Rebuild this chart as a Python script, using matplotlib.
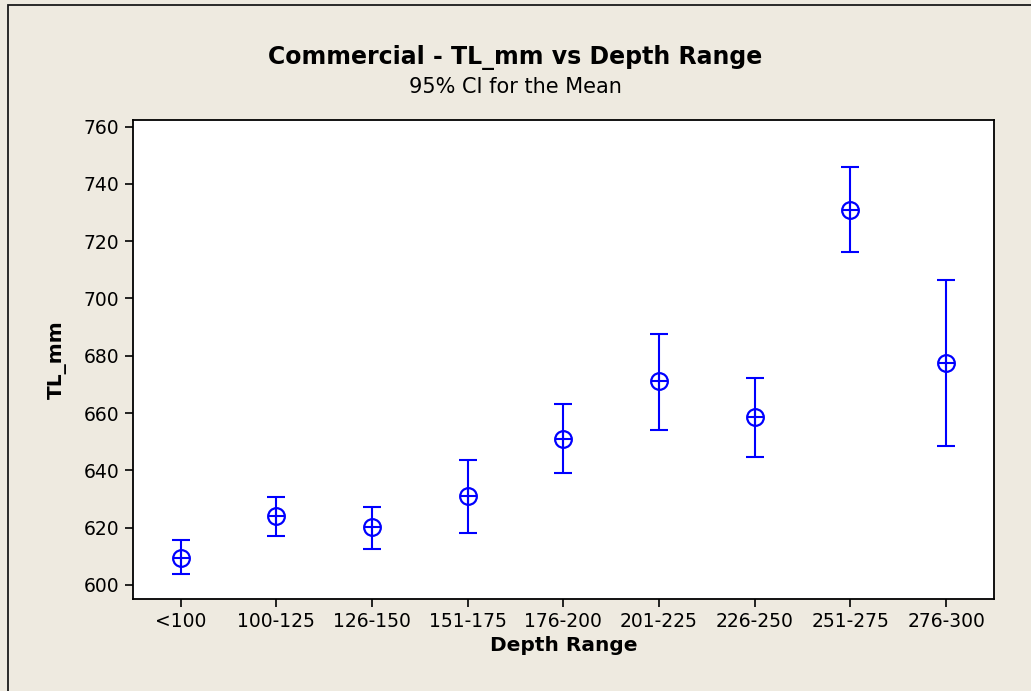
import matplotlib
matplotlib.use("Agg")

import matplotlib.pyplot as plt
from matplotlib.patches import Rectangle

# depth classes and 95% CI of mean total length
depth_ranges = ["<100", "100-125", "126-150", "151-175", "176-200",
                "201-225", "226-250", "251-275", "276-300"]
mean_tl = [609.4, 624.0, 620.2, 631.0, 651.0, 671.1, 658.5, 730.9, 677.4]
ci_low = [603.8, 617.2, 612.7, 618.3, 639.1, 654.2, 644.8, 716.3, 648.5]
ci_high = [615.7, 630.8, 627.2, 643.5, 663.1, 687.5, 672.4, 746.0, 706.4]
y_ticks = [600, 620, 640, 660, 680, 700, 720, 740, 760]

BG = "#EEEAE0"
BLUE = "#0000FF"


def main():
    plt.rcParams["font.family"] = ["DejaVu Sans"]

    fig = plt.figure(figsize=(10.31, 6.91), dpi=100, facecolor=BG)
    # outer frame (only left and top edges visible in the original)
    fig.patches.append(Rectangle((8 / 1031, -0.1), 1.2, 1.1 - 5 / 691,
                                 transform=fig.transFigure, fill=False,
                                 edgecolor="#1a1a1a", linewidth=1.3))

    ax = fig.add_axes([132.7 / 1031, 1 - 599.3 / 691,
                       (994 - 132.7) / 1031, (599.3 - 120) / 691])
    ax.set_facecolor("white")

    x = list(range(len(depth_ranges)))
    lower = [m - lo for m, lo in zip(mean_tl, ci_low)]
    upper = [hi - m for m, hi in zip(mean_tl, ci_high)]

    ax.errorbar(x, mean_tl, yerr=[lower, upper], fmt="none", ecolor=BLUE,
                elinewidth=1.5, capsize=6.5, capthick=1.5)
    ax.plot(x, mean_tl, linestyle="none", marker="o", markersize=12,
            markerfacecolor="none", markeredgecolor=BLUE, markeredgewidth=1.6)
    ax.plot(x, mean_tl, linestyle="none", marker="+", markersize=12,
            markeredgecolor=BLUE, markeredgewidth=1.5)

    ax.set_xlim(-0.5, len(depth_ranges) - 0.5)
    ax.set_ylim(595, 762.3)
    ax.set_xticks(x)
    ax.set_xticklabels(depth_ranges)
    ax.set_yticks(y_ticks)

    for s in ax.spines.values():
        s.set_linewidth(1.3)
    ax.tick_params(axis="both", direction="out", length=5.5, width=1.2,
                   labelsize=13.5, pad=4)

    ax.set_xlabel("Depth Range", fontsize=14.5, fontweight="bold", labelpad=3)
    ax.set_ylabel("TL_mm", fontsize=14.5, fontweight="bold", labelpad=12)

    fig.text(0.5, 1 - 57 / 691, "Commercial - TL_mm vs Depth Range",
             ha="center", va="center", fontsize=17, fontweight="bold")
    fig.text(0.5, 1 - 87 / 691, "95% CI for the Mean",
             ha="center", va="center", fontsize=15)

    fig.savefig("out.png", dpi=100, facecolor=BG)


if __name__ == "__main__":
    main()
